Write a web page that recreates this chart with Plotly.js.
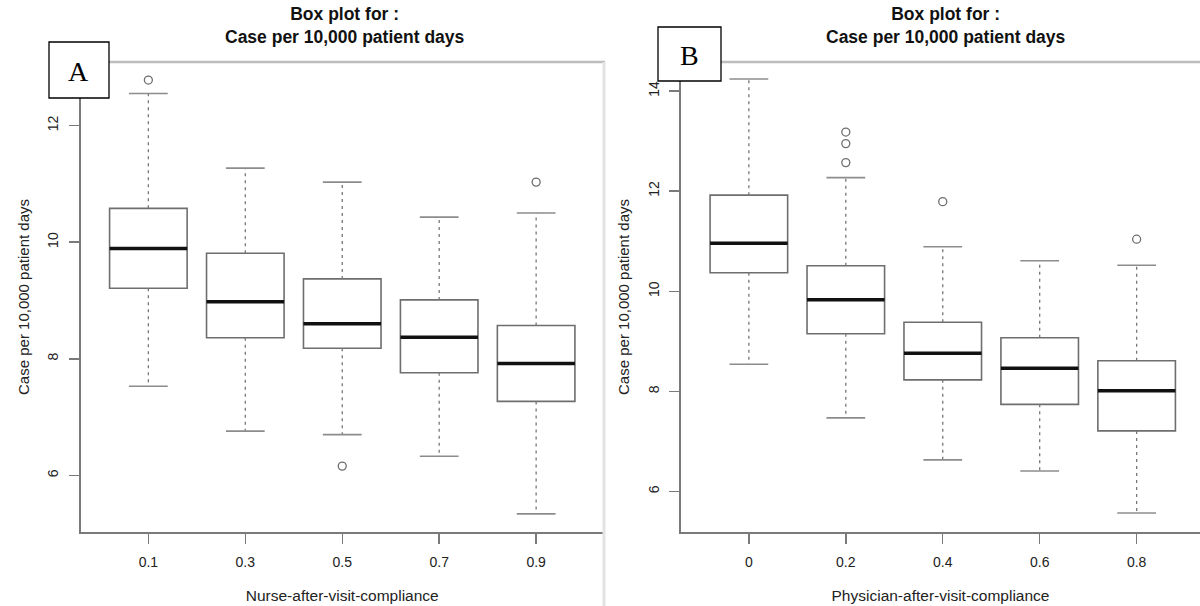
<!DOCTYPE html>
<html>
<head>
<meta charset="utf-8">
<script src="https://cdn.plot.ly/plotly-3.0.1.min.js"></script>
<style>html,body{margin:0;padding:0;background:#fff;}#chart{width:1200px;height:606px;}</style>
</head>
<body>
<div id="chart"></div>
<script>
// Panel A: Nurse-after-visit-compliance
const catsA = ['0.1', '0.3', '0.5', '0.7', '0.9'];
const lowA  = [7.53, 6.76, 6.70, 6.33, 5.34];
const q1A   = [9.21, 8.36, 8.18, 7.76, 7.27];
const medA  = [9.89, 8.98, 8.60, 8.37, 7.92];
const q3A   = [10.58, 9.81, 9.37, 9.01, 8.57];
const highA = [12.55, 11.27, 11.03, 10.43, 10.50];
const outCatA = ['0.1', '0.5', '0.9'];
const outValA = [12.78, 6.16, 11.03];

// Panel B: Physician-after-visit-compliance
const catsB = ['0', '0.2', '0.4', '0.6', '0.8'];
const lowB  = [8.54, 7.47, 6.63, 6.41, 5.57];
const q1B   = [10.37, 9.15, 8.23, 7.74, 7.21];
const medB  = [10.96, 9.83, 8.76, 8.46, 8.01];
const q3B   = [11.92, 10.51, 9.38, 9.07, 8.61];
const highB = [14.24, 12.27, 10.89, 10.61, 10.52];
const outCatB = ['0.2', '0.2', '0.2', '0.4', '0.8'];
const outValB = [13.18, 12.95, 12.57, 11.79, 11.04];

const yTicksA = [6, 8, 10, 12];
const yTicksB = [6, 8, 10, 12, 14];

const titleText = 'Box plot for :<br>Case per 10,000 patient days';
const yTitle = 'Case per 10,000 patient days';
const xTitleA = 'Nurse-after-visit-compliance';
const xTitleB = 'Physician-after-visit-compliance';

const BOXW = 0.8, CAPW = 0.4;
const boxLine = '#6e6e6e';

function panelTraces(cats, low, q1, med, q3, high, outCat, outVal, xa, ya) {
  const pos = cats.map((c, i) => i + 1);
  const traces = [];
  traces.push({
    type: 'box', xaxis: xa, yaxis: ya, x: pos,
    q1: q1, median: med, q3: q3, lowerfence: q1, upperfence: q3,
    width: BOXW, whiskerwidth: 0, boxpoints: false,
    fillcolor: '#ffffff', line: {color: boxLine, width: 1.6},
    hoverinfo: 'skip', showlegend: false
  });
  const wx = [], wy = [];
  pos.forEach((p, i) => { wx.push(p, p, null, p, p, null); wy.push(q3[i], high[i], null, q1[i], low[i], null); });
  traces.push({type: 'scatter', mode: 'lines', xaxis: xa, yaxis: ya, x: wx, y: wy,
    line: {color: '#777777', width: 1.3, dash: '3px,4px'}, hoverinfo: 'skip', showlegend: false});
  const cx = [], cy = [];
  pos.forEach((p, i) => {
    cx.push(p - CAPW / 2, p + CAPW / 2, null, p - CAPW / 2, p + CAPW / 2, null);
    cy.push(high[i], high[i], null, low[i], low[i], null);
  });
  traces.push({type: 'scatter', mode: 'lines', xaxis: xa, yaxis: ya, x: cx, y: cy,
    line: {color: '#8c8c8c', width: 1.6}, hoverinfo: 'skip', showlegend: false});
  const mx = [], my = [];
  pos.forEach((p, i) => { mx.push(p - BOXW / 2, p + BOXW / 2, null); my.push(med[i], med[i], null); });
  traces.push({type: 'scatter', mode: 'lines', xaxis: xa, yaxis: ya, x: mx, y: my,
    line: {color: '#111111', width: 3.5}, hoverinfo: 'skip', showlegend: false});
  traces.push({type: 'scatter', mode: 'markers', xaxis: xa, yaxis: ya,
    x: outCat.map(c => cats.indexOf(c) + 1), y: outVal,
    marker: {symbol: 'circle-open', size: 8, color: '#6e6e6e', line: {width: 1.3, color: '#6e6e6e'}},
    hoverinfo: 'skip', showlegend: false});
  return traces;
}

const data = [].concat(
  panelTraces(catsA, lowA, q1A, medA, q3A, highA, outCatA, outValA, 'x', 'y'),
  panelTraces(catsB, lowB, q1B, medB, q3B, highB, outCatB, outValB, 'x2', 'y2')
);

const W = 1200, H = 606;
const FAM = 'Liberation Sans, Arial, sans-serif';
const tickFont = {family: FAM, size: 14, color: '#222222'};

function xAxis(cats, domain, range, title) {
  return {
    domain: domain, range: range,
    tickmode: 'array', tickvals: cats.map((c, i) => i + 1), ticktext: cats,
    showline: true, linecolor: '#7a7a7a', linewidth: 1.6, mirror: false,
    ticks: 'outside', ticklen: 10, tickwidth: 1.4, tickcolor: '#7a7a7a',
    showgrid: false, zeroline: false, tickfont: tickFont, ticklabelstandoff: 7,
    title: {text: title, font: {family: FAM, size: 15.5, color: '#222222'}, standoff: 21}
  };
}
function yAxis(ticks, range) {
  return {
    domain: [(H - 532) / H, (H - 62) / H], range: range,
    tickmode: 'array', tickvals: ticks, ticktext: ticks.map(String), tickangle: -90,
    showline: true, linecolor: '#7a7a7a', linewidth: 1.6, mirror: false,
    ticks: 'outside', ticklen: 10, tickwidth: 1.4, tickcolor: '#7a7a7a',
    showgrid: false, zeroline: false, tickfont: tickFont, ticklabelstandoff: 5,
    title: {text: yTitle, font: {family: FAM, size: 15, color: '#222222'}, standoff: 12}
  };
}

const xa = xAxis(catsA, [80.5 / W, 604 / W], [0.3, 5.7], xTitleA);
const ya = yAxis(yTicksA, [5.03, 13.09]);
const unitB = (604 - 80.5) / 5.4;
const xb = xAxis(catsB, [681 / W, 1], [0.3, 0.3 + (1200 - 681) / unitB], xTitleB);
const yb = yAxis(yTicksB, [5.19, 14.58]);
xa.anchor = 'y'; ya.anchor = 'x';
xb.anchor = 'y2'; yb.anchor = 'x2';

const px = v => v / W, py = v => 1 - v / H;
const shapes = [
  {type: 'line', xref: 'paper', yref: 'paper', x0: px(94), x1: px(605), y0: py(62), y1: py(62), line: {color: '#bdbdbd', width: 2.5}},
  {type: 'line', xref: 'paper', yref: 'paper', x0: px(604), x1: px(604), y0: py(62), y1: py(606), line: {color: '#e3e3e3', width: 3}},
  {type: 'line', xref: 'paper', yref: 'paper', x0: px(709), x1: px(1200), y0: py(62), y1: py(62), line: {color: '#bdbdbd', width: 2.5}},
  {type: 'rect', xref: 'paper', yref: 'paper', x0: px(49), x1: px(109), y0: py(98), y1: py(42), line: {color: '#000', width: 1.3}, fillcolor: '#fff', layer: 'above'},
  {type: 'rect', xref: 'paper', yref: 'paper', x0: px(658), x1: px(721), y0: py(81), y1: py(27), line: {color: '#000', width: 1.3}, fillcolor: '#fff', layer: 'above'}
];

const titleFont = {family: FAM, size: 17.5, weight: 'bold', color: '#111'};
const annotations = [
  {xref: 'paper', yref: 'paper', x: px(345), y: py(25), text: titleText, showarrow: false,
   font: titleFont, xanchor: 'center', yanchor: 'middle', align: 'center'},
  {xref: 'paper', yref: 'paper', x: px(946), y: py(25), text: titleText, showarrow: false,
   font: titleFont, xanchor: 'center', yanchor: 'middle', align: 'center'},
  {xref: 'paper', yref: 'paper', x: px(79), y: py(71), text: 'A', showarrow: false,
   font: {family: 'Liberation Serif, Times New Roman, serif', size: 28, color: '#000'}, xanchor: 'center', yanchor: 'middle'},
  {xref: 'paper', yref: 'paper', x: px(689.5), y: py(55), text: 'B', showarrow: false,
   font: {family: 'Liberation Serif, Times New Roman, serif', size: 28, color: '#000'}, xanchor: 'center', yanchor: 'middle'}
];

const layout = {
  width: W, height: H, margin: {l: 0, r: 0, t: 0, b: 0},
  paper_bgcolor: '#ffffff', plot_bgcolor: '#ffffff',
  showlegend: false,
  xaxis: xa, yaxis: ya, xaxis2: xb, yaxis2: yb,
  shapes: shapes, annotations: annotations
};

Plotly.newPlot('chart', data, layout, {staticPlot: true, displayModeBar: false});
</script>
</body>
</html>
